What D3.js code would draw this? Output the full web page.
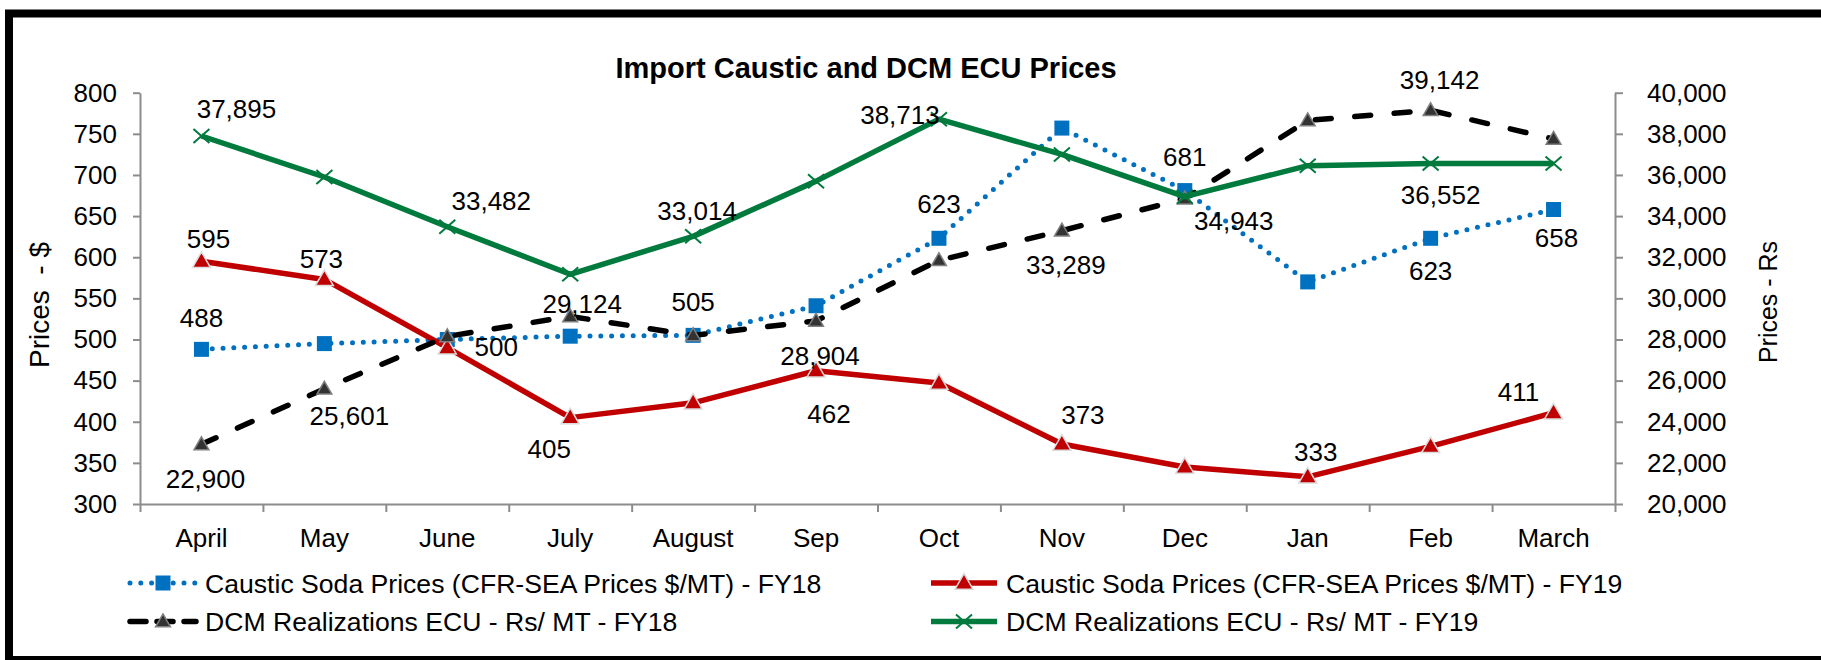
<!DOCTYPE html>
<html>
<head>
<meta charset="utf-8">
<script src="https://cdn.jsdelivr.net/npm/d3@7"></script>
<style>
  html, body { margin: 0; padding: 0; background: #fff; }
  svg { display: block; }
  text { font-family: "Liberation Sans", Arial, sans-serif; fill: #000; }
</style>
</head>
<body>
<svg id="chart" width="1821" height="660"></svg>
<script>
// months on the category axis
const months = ["April", "May", "June", "July", "August", "Sep", "Oct", "Nov", "Dec", "Jan", "Feb", "March"];

// left axis, $/MT
const causticFY18 = [488, 495, 500, 504, 505, 541, 623, 757, 681, 570, 623, 658];
const causticFY19 = [595, 573, 490, 405, 423, 462, 447, 373, 345, 333, 370, 411];
// right axis, Rs/MT
const dcmFY18 = [22900, 25601, 28150, 29124, 28200, 28904, 31850, 33289, 34850, 38650, 39142, 37750];
const dcmFY19 = [37895, 35900, 33482, 31170, 33014, 35700, 38713, 37000, 34943, 36450, 36552, 36560];

const leftTicks = [300, 350, 400, 450, 500, 550, 600, 650, 700, 750, 800];
const rightTicks = [20000, 22000, 24000, 26000, 28000, 30000, 32000, 34000, 36000, 38000, 40000];

// which points carry a data label, and where the label sits relative to the marker [index, dx, dy]
const causticFY18Labels = [[0, 0, -22], [2, 49, 17], [4, 0, -24], [6, 0, -25], [8, 0, -25], [10, 0, 42], [11, 3, 37]];
const causticFY19Labels = [[0, 7, -13], [1, -3, -11], [3, -21, 40], [5, 13, 52], [7, 21, -20], [9, 8, -16], [11, -35, -12]];
const dcmFY18Labels = [[0, 4, 44], [1, 25, 36], [3, 12, -3], [5, 4, 44], [7, 4, 43], [10, 9, -21]];
const dcmFY19Labels = [[0, 35, -18], [2, 44, -17], [4, 4, -16], [6, -39, 5], [8, 49, 33], [10, 10, 40]];

const svg = d3.select('#chart');

// plot area
const plotLeft = 140, plotRight = 1615, plotTop = 92.7, plotBottom = 504;

const x = d3.scaleBand().domain(months).range([plotLeft, plotRight]).padding(0);
const cx = d => x(d) + x.bandwidth() / 2;
const yL = d3.scaleLinear().domain([300, 800]).range([plotBottom, plotTop]);
const yR = d3.scaleLinear().domain([20000, 40000]).range([plotBottom, plotTop]);

const axisColor = '#8c8c8c';
const fmt = d3.format(',');

// outer frame
svg.append('rect')
    .attr('x', 9).attr('y', 13.5)
    .attr('width', 1830).attr('height', 646.5)
    .attr('fill', 'none')
    .attr('stroke', '#000')
    .attr('stroke-width', 8);

// title
svg.append('text')
    .attr('x', 866).attr('y', 78.3)
    .attr('text-anchor', 'middle')
    .style('font-size', '29px')
    .style('font-weight', 'bold')
    .text('Import Caustic and DCM ECU Prices');

// left axis
const gL = svg.append('g')
    .attr('transform', `translate(${plotLeft},0)`)
    .call(d3.axisLeft(yL).tickValues(leftTicks).tickSize(7).tickPadding(16).tickSizeOuter(0));
// right axis
const gR = svg.append('g')
    .attr('transform', `translate(${plotRight},0)`)
    .call(d3.axisRight(yR).tickValues(rightTicks).tickFormat(fmt).tickSize(8).tickPadding(24).tickSizeOuter(0));
// category axis: ticks between categories
const xEdges = d3.scaleLinear().domain([0, months.length]).range([plotLeft, plotRight]);
const gX = svg.append('g')
    .attr('transform', `translate(0,${plotBottom})`)
    .call(d3.axisBottom(xEdges).tickValues(d3.range(0, months.length + 1)).tickFormat('').tickSize(8).tickSizeOuter(0));

[gL, gR, gX].forEach(g => {
    g.select('.domain').attr('stroke', axisColor).attr('stroke-width', 2);
    g.selectAll('.tick line').attr('stroke', axisColor).attr('stroke-width', 2);
    g.selectAll('.tick text').style('font-size', '26px').attr('fill', '#000')
        .style('font-family', '"Liberation Sans", Arial, sans-serif');
});

svg.append('g').selectAll('text')
    .data(months)
    .enter()
    .append('text')
    .attr('x', d => cx(d))
    .attr('y', 546.7)
    .attr('text-anchor', 'middle')
    .style('font-size', '26px')
    .text(d => d);

// axis titles
svg.append('text')
    .attr('transform', 'translate(49,305) rotate(-90)')
    .attr('text-anchor', 'middle')
    .style('font-size', '28px')
    .style('white-space', 'pre')
    .text('Prices  - $');
svg.append('text')
    .attr('transform', 'translate(1777,302) rotate(-90)')
    .attr('text-anchor', 'middle')
    .style('font-size', '25px')
    .style('white-space', 'pre')
    .text('Prices - Rs');

// marker drawing helpers
function square(g, size, fill) {
    g.append('path').attr('d', d3.symbol(d3.symbolSquare, size)()).attr('fill', fill);
}
function triangle(g, size, fill, stroke) {
    g.append('path').attr('d', d3.symbol(d3.symbolTriangle, size)())
        .attr('transform', 'translate(0,1)')
        .attr('fill', fill).attr('stroke', stroke).attr('stroke-width', 1.5);
}
function cross(g, w, h, color) {
    g.append('path')
        .attr('d', `M${-w / 2},${-h / 2}L${w / 2},${h / 2}M${-w / 2},${h / 2}L${w / 2},${-h / 2}`)
        .attr('stroke', color).attr('stroke-width', 2).attr('fill', 'none');
}

const series = [
    {
        name: 'Caustic Soda Prices (CFR-SEA Prices $/MT) - FY18',
        values: causticFY18, y: yL, labels: causticFY18Labels, format: d => d,
        color: '#0070C0', width: 5, dash: '0 10.8', cap: 'round',
        marker: g => square(g, 225, '#0070C0')
    },
    {
        name: 'Caustic Soda Prices (CFR-SEA Prices $/MT) - FY19',
        values: causticFY19, y: yL, labels: causticFY19Labels, format: d => d,
        color: '#C00000', width: 5.5, dash: null, cap: 'butt',
        marker: g => triangle(g, 140, '#C00000', '#dcdcdc')
    },
    {
        name: 'DCM Realizations ECU - Rs/ MT - FY18',
        values: dcmFY18, y: yR, labels: dcmFY18Labels, format: fmt,
        color: '#000000', width: 5.5, dash: '16 23.5', cap: 'round',
        marker: g => triangle(g, 95, '#333333', '#7f7f7f')
    },
    {
        name: 'DCM Realizations ECU - Rs/ MT - FY19',
        values: dcmFY19, y: yR, labels: dcmFY19Labels, format: fmt,
        color: '#007A3D', width: 5.5, dash: null, cap: 'butt',
        marker: g => cross(g, 16, 14, '#007A3D')
    }
];

series.forEach(s => {
    const pts = s.values.map((v, i) => ({ x: cx(months[i]), y: s.y(v), v: v }));
    const line = d3.line().x(d => d.x).y(d => d.y);
    svg.append('path')
        .datum(pts)
        .attr('d', line)
        .attr('fill', 'none')
        .attr('stroke', s.color)
        .attr('stroke-width', s.width)
        .attr('stroke-linecap', s.cap)
        .attr('stroke-linejoin', 'round')
        .attr('stroke-dasharray', s.dash);
    pts.forEach(p => {
        const g = svg.append('g').attr('transform', `translate(${p.x},${p.y})`);
        s.marker(g);
    });
});

// data labels on top of everything
series.forEach(s => {
    s.labels.forEach(([i, dx, dy]) => {
        svg.append('text')
            .attr('x', cx(months[i]) + dx)
            .attr('y', s.y(s.values[i]) + dy)
            .attr('text-anchor', 'middle')
            .style('font-size', '26px')
            .text(s.format(s.values[i]));
    });
});

// legend, two columns by two rows
const legendPos = [[128, 592.5], [929, 592.5], [128, 631], [929, 631]];
series.forEach((s, k) => {
    const [lx, ly] = legendPos[k];
    const g = svg.append('g').attr('transform', `translate(${lx},${ly - 9.5})`);
    g.append('line')
        .attr('x1', 2).attr('x2', 68)
        .attr('stroke', s.color)
        .attr('stroke-width', s.width)
        .attr('stroke-linecap', s.cap)
        .attr('stroke-dasharray', s.dash === '16 23.5' ? '16 11' : s.dash);
    s.marker(g.append('g').attr('transform', 'translate(35,0)'));
    svg.append('text')
        .attr('x', lx + 77)
        .attr('y', ly)
        .style('font-size', '26.6px')
        .text(s.name);
});
</script>
</body>
</html>
